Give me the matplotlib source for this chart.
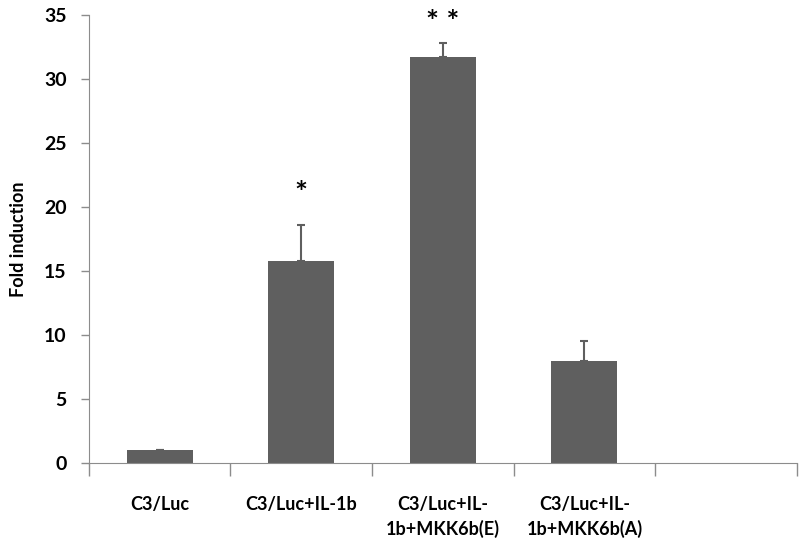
import matplotlib.pyplot as plt
import numpy as np

plt.rcParams['font.family'] = ['Lato', 'DejaVu Sans']
plt.rcParams['font.weight'] = 'bold'

labels = ["C3/Luc", "C3/Luc+IL-1b", "C3/Luc+IL-\n1b+MKK6b(E)", "C3/Luc+IL-\n1b+MKK6b(A)"]
values = [1.0, 15.8, 31.7, 8.0]
errors = [0.05, 2.8, 1.1, 1.5]
stars = ["", "*", "* *", ""]
star_y = [0, 21.0, 34.4, 0]

fig = plt.figure(figsize=(8, 5.39), dpi=100)
ax = fig.add_axes([0.111, 0.141, 0.885, 0.831])

x = np.arange(len(labels))
ax.bar(x, values, width=0.465, color='#5f5f5f', zorder=2)
ax.errorbar(x, values, yerr=[np.zeros(len(errors)), errors], fmt='none',
            ecolor='#5f5f5f', elinewidth=1.5, capsize=3, capthick=1.5, zorder=3)

for i, s in enumerate(stars):
    if s:
        ax.text(x[i], star_y[i], s, ha='center', va='center', fontsize=22, color='black')

ax.set_xlim(-0.5, 4.5)
ax.set_ylim(0, 35)
ax.set_yticks(np.arange(0, 36, 5))
ax.set_xticks(np.arange(-0.5, 4.6, 1.0))
ax.set_xticklabels([])
ax.set_xticks(x, minor=True)
ax.set_xticklabels(labels, minor=True, fontsize=13, fontweight='bold', linespacing=1.45)
ax.tick_params(axis='x', which='minor', length=0, pad=24)
ax.tick_params(axis='x', which='major', length=9, color='#8c8c8c', width=1)
ax.tick_params(axis='y', length=6, color='#8c8c8c', width=1, labelsize=14, pad=10)
for t in ax.get_yticklabels():
    t.set_fontweight('bold')

ax.spines['top'].set_visible(False)
ax.spines['right'].set_visible(False)
ax.spines['left'].set_color('#8c8c8c')
ax.spines['bottom'].set_color('#8c8c8c')

ax.set_ylabel("Fold induction", fontsize=13, fontweight='bold', labelpad=12)

fig.savefig("out.png", dpi=100)
